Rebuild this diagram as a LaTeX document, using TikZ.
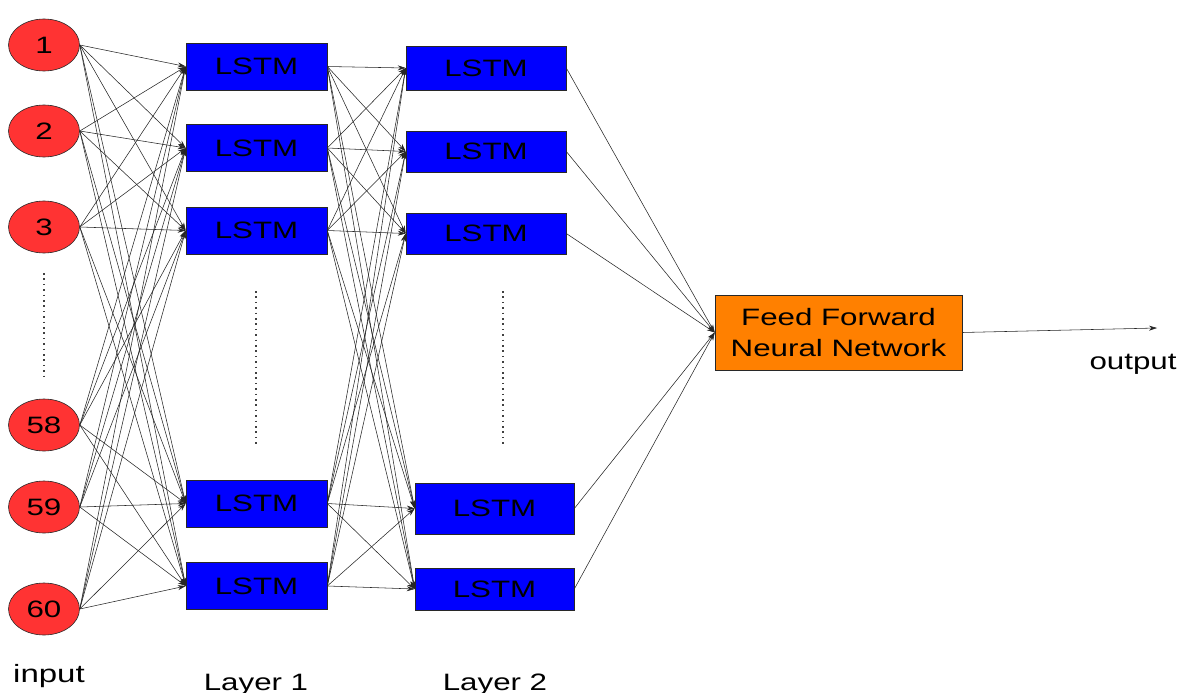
\documentclass[tikz,border=0pt]{standalone}
\usepackage{fontspec}
\usepackage{graphicx}
\setmainfont{Liberation Sans}
\usetikzlibrary{arrows.meta,shapes.geometric}
\newcommand{\wtext}[1]{\scalebox{1.32}[1]{#1}}
\definecolor{inred}{RGB}{255,51,51}
\definecolor{lstmblue}{RGB}{0,0,255}
\definecolor{ffnorange}{RGB}{255,128,0}
\definecolor{edge}{RGB}{40,40,40}
\tikzset{
  txt/.style={font=\fontsize{23.7}{31}\selectfont, text=black},
  innode/.style={ellipse, draw=edge, line width=0.6pt, fill=inred,
    minimum width=71pt, minimum height=52pt, inner sep=0pt, txt},
  lstm/.style={rectangle, draw=edge, line width=0.6pt, fill=lstmblue,
    inner sep=0pt, txt},
  ffn/.style={rectangle, draw=edge, line width=0.6pt, fill=ffnorange,
    inner sep=0pt, align=center, txt},
  arr/.style={draw=black!85, line width=0.55pt,
    -{Stealth[length=8pt,width=5pt]}},
  dots/.style={draw=black!75, line width=1.5pt, dash pattern=on 1.5pt off 3.9pt},
  lbl/.style={txt, anchor=base}
}
\begin{document}
\begin{tikzpicture}[x=1pt, y=-1pt]
\useasboundingbox (0,0) rectangle (1188,693);

% input units
\node[innode] (in1) at (44,45)  {\wtext{1}};
\node[innode] (in2) at (44,131) {\wtext{2}};
\node[innode] (in3) at (44,227) {\wtext{3}};
\node[innode] (in4) at (44,425) {\wtext{58}};
\node[innode] (in5) at (44,507) {\wtext{59}};
\node[innode] (in6) at (44,609) {\wtext{60}};

% first LSTM layer
\node[lstm, minimum width=141pt, minimum height=47pt] (a1) at (256.5,66.5)  {\wtext{LSTM}};
\node[lstm, minimum width=141pt, minimum height=47pt] (a2) at (256.5,148)   {\wtext{LSTM}};
\node[lstm, minimum width=141pt, minimum height=47pt] (a3) at (256.5,230.5) {\wtext{LSTM}};
\node[lstm, minimum width=141pt, minimum height=47pt] (a4) at (256.5,503.5) {\wtext{LSTM}};
\node[lstm, minimum width=141pt, minimum height=47pt] (a5) at (256.5,586)   {\wtext{LSTM}};

% second LSTM layer
\node[lstm, minimum width=160pt, minimum height=44pt] (b1) at (486,68)      {\wtext{LSTM}};
\node[lstm, minimum width=160pt, minimum height=41pt] (b2) at (486,151.5)   {\wtext{LSTM}};
\node[lstm, minimum width=160pt, minimum height=41pt] (b3) at (486,233.5)   {\wtext{LSTM}};
\node[lstm, minimum width=159pt, minimum height=51pt] (b4) at (494.5,508.5) {\wtext{LSTM}};
\node[lstm, minimum width=159pt, minimum height=42pt] (b5) at (494.5,589)   {\wtext{LSTM}};

% feed forward head
\node[ffn, minimum width=247pt, minimum height=75pt] (ff) at (838.5,332.5)
  {\wtext{Feed Forward}\\\wtext{Neural Network}};
\coordinate (out) at (1157,328);

% ellipsis markers
\coordinate (d1a) at (44,273);  \coordinate (d1b) at (44,378);
\coordinate (d2a) at (256,291); \coordinate (d2b) at (256,446);
\coordinate (d3a) at (503,291); \coordinate (d3b) at (503,446);
\draw[dots] (d1a) -- (d1b);
\draw[dots] (d2a) -- (d2b);
\draw[dots] (d3a) -- (d3b);

% connections
\foreach \i in {1,...,6}
  \foreach \j in {1,...,5}
    \draw[arr] (in\i.east) -- (a\j.west);
\foreach \i in {1,...,5}
  \foreach \j in {1,...,5}
    \draw[arr] (a\i.east) -- (b\j.west);
\foreach \i in {1,...,5}
  \draw[arr] (b\i.east) -- (ff.west);
\draw[arr] (ff.east) -- (out);

% captions
\node[lbl, font=\fontsize{25}{30}\selectfont] (linput) at (49,682) {\wtext{input}};
\node[lbl] (lone)   at (256,690)  {\wtext{Layer 1}};
\node[lbl] (ltwo)   at (495,690)  {\wtext{Layer 2}};
\node[lbl] (lout)   at (1133,369) {\wtext{output}};
\end{tikzpicture}
\end{document}
